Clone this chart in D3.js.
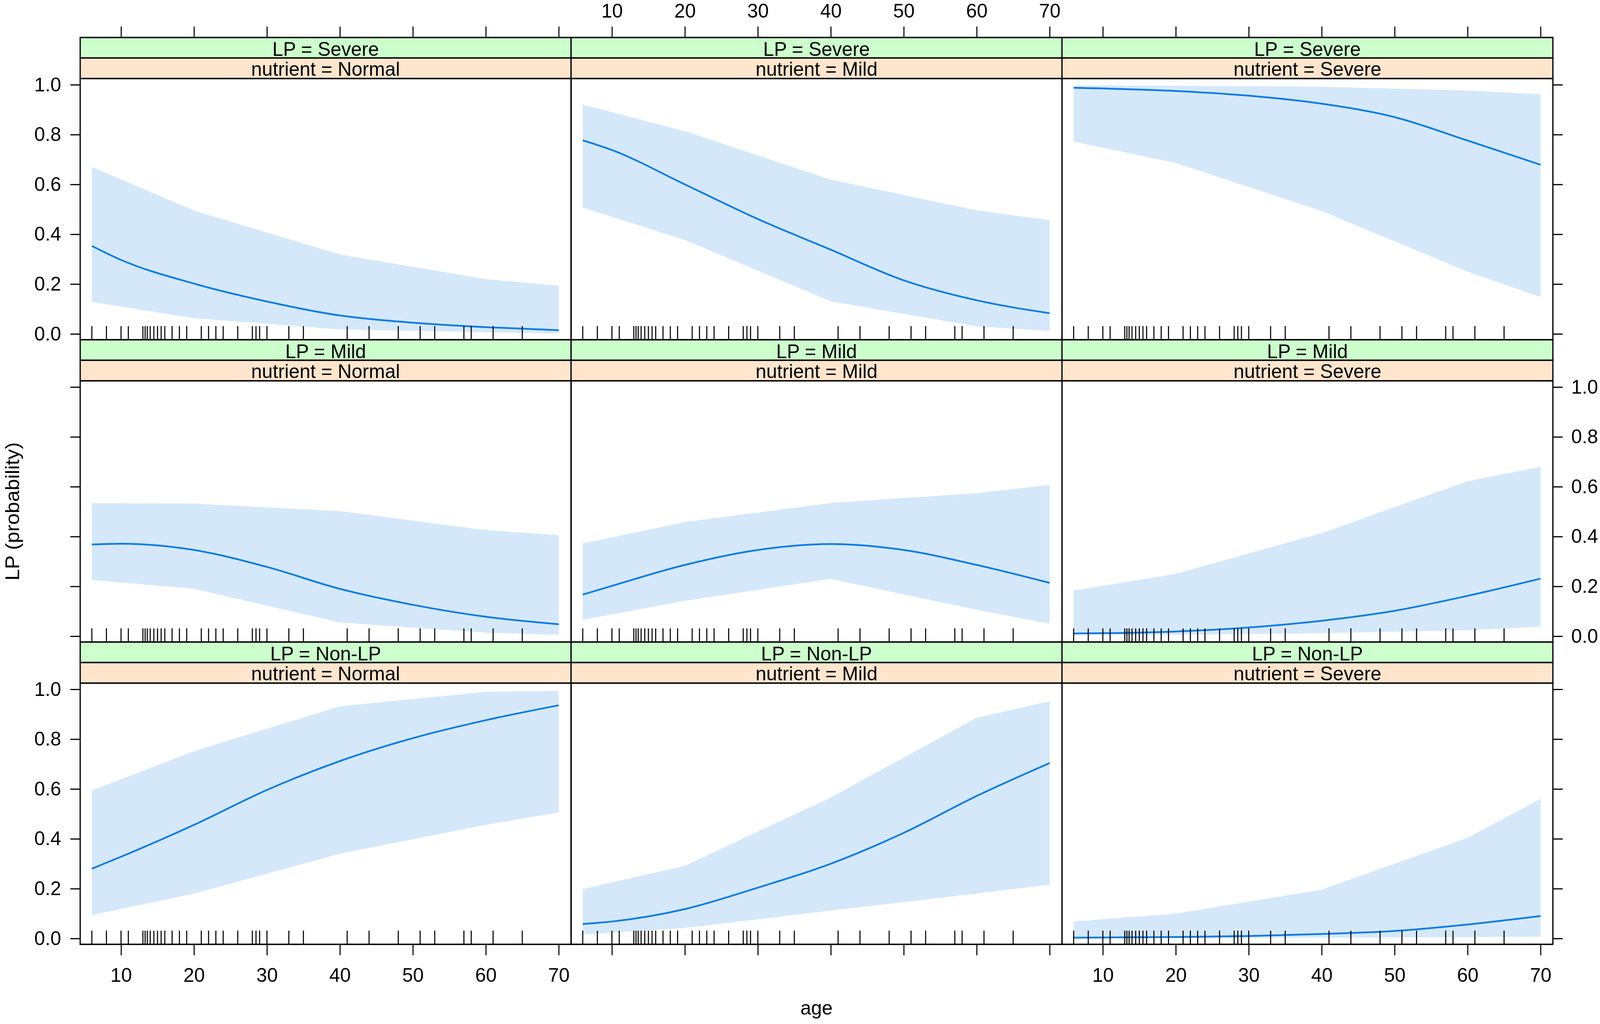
<!DOCTYPE html>
<html>
<head>
<meta charset="utf-8">
<script src="https://cdn.jsdelivr.net/npm/d3@7"></script>
<style>
  html, body { margin: 0; padding: 0; background: #fff; width: 100%; height: 100%; overflow: hidden; }
  svg { display: block; position: fixed; left: 0; top: 0; width: 100vw; height: 100vh; }
</style>
</head>
<body>
<svg id="chart" viewBox="0 0 4550 2622" preserveAspectRatio="none"></svg>
<script>
// ---------------- DATA ----------------
const lpLevels = ["Severe", "Mild", "Non-LP"];          // rows (top to bottom)
const nutrientLevels = ["Normal", "Mild", "Severe"];    // columns (left to right)
const ageTicks = [10, 20, 30, 40, 50, 60, 70];
const probTicks = [0.0, 0.2, 0.4, 0.6, 0.8, 1.0];

const ageFit = [6, 10, 20, 30, 40, 50, 60, 70];
const ageBand = [6, 20, 40, 60, 70];

// LP = Severe
const fit_Severe_Normal   = [0.353, 0.297, 0.202, 0.130, 0.074, 0.045, 0.027, 0.015];
const lower_Severe_Normal = [0.128, 0.063, 0.018, 0.007, 0.002];
const upper_Severe_Normal = [0.670, 0.495, 0.319, 0.220, 0.193];
const fit_Severe_Mild     = [0.777, 0.738, 0.600, 0.461, 0.338, 0.215, 0.135, 0.083];
const lower_Severe_Mild   = [0.507, 0.377, 0.131, 0.030, 0.012];
const upper_Severe_Mild   = [0.920, 0.814, 0.619, 0.496, 0.456];
const fit_Severe_Severe   = [0.988, 0.985, 0.975, 0.956, 0.924, 0.870, 0.776, 0.679];
const lower_Severe_Severe = [0.772, 0.686, 0.493, 0.250, 0.148];
const upper_Severe_Severe = [0.997, 0.996, 0.992, 0.977, 0.962];
// LP = Mild
const fit_Mild_Normal     = [0.368, 0.371, 0.346, 0.278, 0.190, 0.126, 0.078, 0.048];
const lower_Mild_Normal   = [0.226, 0.190, 0.055, 0.014, 0.006];
const upper_Mild_Normal   = [0.534, 0.532, 0.502, 0.426, 0.406];
const fit_Mild_Mild       = [0.167, 0.202, 0.286, 0.346, 0.370, 0.346, 0.286, 0.214];
const lower_Mild_Mild     = [0.066, 0.142, 0.230, 0.106, 0.050];
const upper_Mild_Mild     = [0.372, 0.458, 0.535, 0.574, 0.607];
const fit_Mild_Severe     = [0.011, 0.012, 0.019, 0.035, 0.062, 0.102, 0.162, 0.231];
const lower_Mild_Severe   = [0.006, 0.006, 0.012, 0.024, 0.038];
const upper_Mild_Severe   = [0.183, 0.250, 0.414, 0.622, 0.680];
// LP = Non-LP
const fit_NonLP_Normal    = [0.280, 0.328, 0.456, 0.596, 0.712, 0.804, 0.876, 0.936];
const lower_NonLP_Normal  = [0.094, 0.180, 0.340, 0.456, 0.506];
const upper_NonLP_Normal  = [0.594, 0.752, 0.932, 0.990, 0.994];
const fit_NonLP_Mild      = [0.058, 0.068, 0.118, 0.204, 0.300, 0.424, 0.572, 0.704];
const lower_NonLP_Mild    = [0.016, 0.042, 0.112, 0.180, 0.216];
const upper_NonLP_Mild    = [0.198, 0.292, 0.566, 0.886, 0.952];
const fit_NonLP_Severe    = [0.003, 0.004, 0.006, 0.010, 0.018, 0.030, 0.056, 0.090];
const lower_NonLP_Severe  = [0.001, 0.001, 0.003, 0.005, 0.007];
const upper_NonLP_Severe  = [0.068, 0.100, 0.196, 0.404, 0.560];

// observed ages (rug)
const rugAges = [6, 8, 10, 11, 13, 13.3, 13.6, 14, 14.5, 15, 15.5, 16, 17, 18, 19,
                 21, 22, 23, 24, 26, 28, 28.5, 29, 30, 33, 35, 41, 44, 48, 51, 53,
                 57, 58, 61, 65];

// table of panels built from the arrays above
const panelData = [
  [ {fit: fit_Severe_Normal, lo: lower_Severe_Normal, hi: upper_Severe_Normal},
    {fit: fit_Severe_Mild,   lo: lower_Severe_Mild,   hi: upper_Severe_Mild},
    {fit: fit_Severe_Severe, lo: lower_Severe_Severe, hi: upper_Severe_Severe} ],
  [ {fit: fit_Mild_Normal,   lo: lower_Mild_Normal,   hi: upper_Mild_Normal},
    {fit: fit_Mild_Mild,     lo: lower_Mild_Mild,     hi: upper_Mild_Mild},
    {fit: fit_Mild_Severe,   lo: lower_Mild_Severe,   hi: upper_Mild_Severe} ],
  [ {fit: fit_NonLP_Normal,  lo: lower_NonLP_Normal,  hi: upper_NonLP_Normal},
    {fit: fit_NonLP_Mild,    lo: lower_NonLP_Mild,    hi: upper_NonLP_Mild},
    {fit: fit_NonLP_Severe,  lo: lower_NonLP_Severe,  hi: upper_NonLP_Severe} ]
];

// ---------------- LAYOUT ----------------
const FONT = "'Liberation Sans', Arial, Helvetica, sans-serif";
const FS = 55;
const SQ = 0.91;           // vertical squash of glyphs seen in the reference
const colX0 = 228, colW = 1396;
const rowY0 = 96, rowH = 774, stripH = 52.5, panelH = 669;
const plotRight = colX0 + 3 * colW;
const plotBottom = rowY0 + 3 * rowH;

const lineCol = "#0a7ce8";
const bandCol = "#d5e8fa";
const stripOuter = "#ccffcc";
const stripInner = "#ffe5cc";

const svg = d3.select("#chart");
svg.append("rect").attr("width", 4550).attr("height", 2622).attr("fill", "#fff");

const x = d3.scaleLinear().domain([4.40, 71.69]).range([0, colW]);
const y = d3.scaleLinear().domain([-0.0235, 1.0251]).range([panelH, 0]);

const bandArea = d3.area()
  .x((d) => x(d.age)).y0((d) => y(d.lo)).y1((d) => y(d.hi));
const fitLine = d3.line()
  .x((d) => x(d.age)).y((d) => y(d.p))
  .curve(d3.curveMonotoneX);

function addText(g, str, tx, ty, anchor) {
  return g.append("text")
    .attr("transform", `translate(${tx},${ty}) scale(1,${SQ})`)
    .attr("text-anchor", anchor || "middle")
    .attr("font-family", FONT)
    .attr("font-size", FS)
    .attr("fill", "#000")
    .text(str);
}

function styleAxis(g, showLabels) {
  g.select(".domain").remove();
  g.selectAll(".tick line").attr("stroke", "#000").attr("stroke-width", 3);
  g.selectAll(".tick text")
    .attr("font-family", FONT).attr("font-size", FS).attr("fill", "#000")
    .attr("transform", `scale(1,${SQ})`);
  if (!showLabels) g.selectAll(".tick text").remove();
}

lpLevels.forEach((lp, r) => {
  nutrientLevels.forEach((nut, c) => {
    const px = colX0 + c * colW;
    const sy = rowY0 + r * rowH;
    const py = sy + 2 * stripH;
    const d = panelData[r][c];

    const g = svg.append("g").attr("transform", `translate(${px},${py})`);

    // band
    const bandPts = ageBand.map((a, i) => ({age: a, lo: d.lo[i], hi: d.hi[i]}));
    g.append("path").attr("d", bandArea(bandPts))
      .attr("fill", bandCol).attr("stroke", "none");

    // fitted curve
    const fitPts = ageFit.map((a, i) => ({age: a, p: d.fit[i]}));
    g.append("path").attr("d", fitLine(fitPts))
      .attr("fill", "none").attr("stroke", lineCol).attr("stroke-width", 4.5);

    // rug
    g.selectAll("line.rug").data(rugAges).enter().append("line")
      .attr("class", "rug")
      .attr("x1", (a) => x(a)).attr("x2", (a) => x(a))
      .attr("y1", panelH).attr("y2", panelH - 35)
      .attr("stroke", "#000").attr("stroke-width", 3);

    // panel border
    g.append("rect").attr("x", 0).attr("y", 0).attr("width", colW).attr("height", panelH)
      .attr("fill", "none").attr("stroke", "#000").attr("stroke-width", 3.5);

    // strips
    const s = svg.append("g").attr("transform", `translate(${px},${sy})`);
    s.append("rect").attr("x", 0).attr("y", 0).attr("width", colW).attr("height", stripH)
      .attr("fill", stripOuter).attr("stroke", "#000").attr("stroke-width", 3.5);
    s.append("rect").attr("x", 0).attr("y", stripH).attr("width", colW).attr("height", stripH)
      .attr("fill", stripInner).attr("stroke", "#000").attr("stroke-width", 3.5);
    addText(s, `LP = ${lp}`, colW / 2, 47);
    addText(s, `nutrient = ${nut}`, colW / 2, stripH + 45);
  });
});

// ---------------- AXES ----------------
const fmtP = d3.format(".1f");
lpLevels.forEach((lp, r) => {
  const py = rowY0 + r * rowH + 2 * stripH;
  const ax = svg.append("g").attr("transform", `translate(${colX0},${py})`)
    .call(d3.axisLeft(y).tickValues(probTicks).tickSize(28).tickSizeOuter(0)
      .tickPadding(26).tickFormat(fmtP));
  styleAxis(ax, r !== 1);
  const axr = svg.append("g").attr("transform", `translate(${plotRight},${py})`)
    .call(d3.axisRight(y).tickValues(probTicks).tickSize(28).tickSizeOuter(0)
      .tickPadding(24).tickFormat(fmtP));
  styleAxis(axr, r === 1);
});
nutrientLevels.forEach((nut, c) => {
  const px = colX0 + c * colW;
  const axt = svg.append("g").attr("transform", `translate(${px},${rowY0})`)
    .call(d3.axisTop(x).tickValues(ageTicks).tickSize(28).tickSizeOuter(0)
      .tickPadding(28).tickFormat(d3.format("d")));
  styleAxis(axt, c === 1);
  const axb = svg.append("g").attr("transform", `translate(${px},${plotBottom})`)
    .call(d3.axisBottom(x).tickValues(ageTicks).tickSize(28).tickSizeOuter(0)
      .tickPadding(38).tickFormat(d3.format("d")));
  styleAxis(axb, c !== 1);
});

// axis titles
addText(svg, "age", (colX0 + plotRight) / 2, 2598);
svg.append("text")
  .attr("transform", `translate(54,${(rowY0 + 2 * stripH + plotBottom) / 2}) scale(1,0.96) rotate(-90)`)
  .attr("text-anchor", "middle")
  .attr("font-family", FONT).attr("font-size", FS).attr("fill", "#000")
  .text("LP (probability)");
</script>
</body>
</html>
